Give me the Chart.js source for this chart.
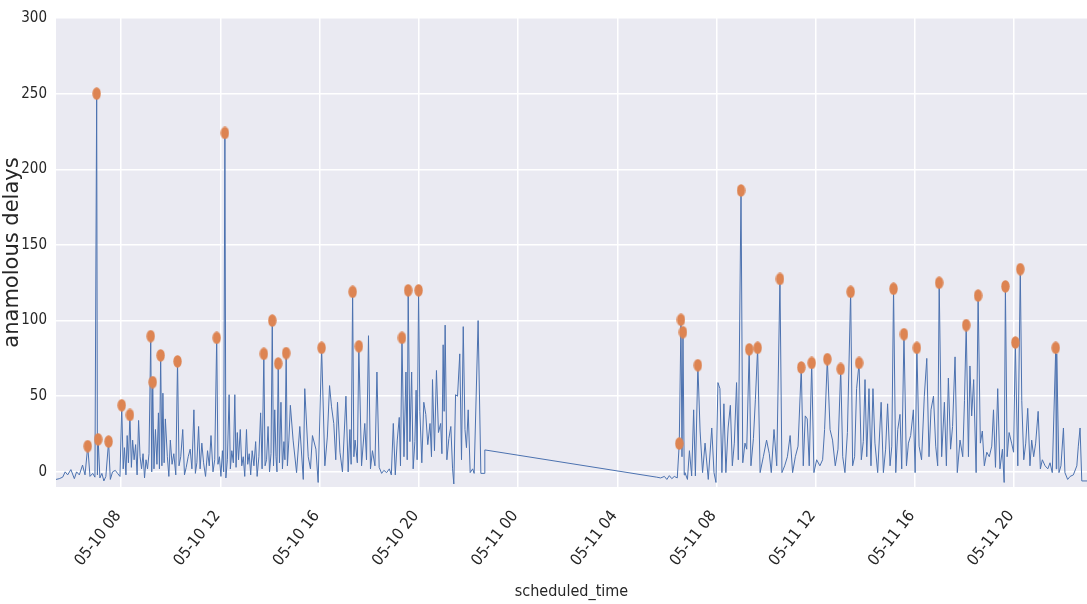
<!DOCTYPE html>
<html>
<head>
<meta charset="utf-8">
<script src="https://cdn.jsdelivr.net/npm/chart.js@4.4.0/dist/chart.umd.min.js"></script>
<style>
  html, body { margin: 0; padding: 0; background: #ffffff; overflow: hidden; }
  canvas { display: block; }
</style>
</head>
<body>
<canvas id="delays-chart" width="1087" height="604"></canvas>
<script>
// hours counted from 05-10 00:00
const times = [
  5.37,5.50,5.64,5.74,5.84,5.97,6.11,6.20,6.31,6.44,
  6.54,6.65,6.74,6.85,6.94,7.01,7.04,7.07,7.14,7.22,
  7.30,7.38,7.49,7.56,7.65,7.76,7.85,7.95,8.02,8.08,
  8.13,8.19,8.24,8.29,8.35,8.41,8.46,8.52,8.58,8.64,
  8.70,8.76,8.82,8.88,8.94,9.00,9.06,9.12,9.19,9.23,
  9.27,9.32,9.38,9.44,9.50,9.54,9.59,9.64,9.68,9.73,
  9.78,9.86,9.92,9.98,10.05,10.12,10.20,10.27,10.33,10.40,
  10.48,10.55,10.62,10.70,10.78,10.85,10.93,10.99,11.05,11.12,
  11.18,11.25,11.32,11.40,11.48,11.55,11.62,11.70,11.77,11.85,
  11.90,11.96,12.02,12.08,12.13,12.18,12.22,12.28,12.35,12.40,
  12.46,12.52,12.58,12.63,12.68,12.73,12.80,12.86,12.92,12.98,
  13.05,13.10,13.16,13.22,13.28,13.35,13.42,13.48,13.55,13.62,
  13.68,13.75,13.80,13.86,13.92,13.98,14.04,14.09,14.14,14.19,
  14.24,14.28,14.33,14.38,14.44,14.50,14.56,14.60,14.65,14.70,
  14.76,14.82,14.93,15.07,15.20,15.34,15.40,15.54,15.63,15.71,
  15.85,15.94,16.08,16.21,16.31,16.40,16.48,16.57,16.65,16.72,
  16.82,16.92,17.06,17.15,17.22,17.27,17.33,17.38,17.43,17.52,
  17.58,17.69,17.82,17.89,17.97,18.05,18.13,18.23,18.31,18.40,
  18.50,18.59,18.70,18.81,18.89,18.97,19.05,19.13,19.21,19.26,
  19.32,19.40,19.48,19.53,19.57,19.64,19.71,19.77,19.84,19.89,
  19.93,19.99,20.04,20.12,20.20,20.28,20.36,20.45,20.51,20.55,
  20.63,20.71,20.79,20.88,20.93,20.98,21.02,21.06,21.13,21.21,
  21.29,21.36,21.41,21.48,21.56,21.65,21.72,21.79,21.86,21.92,
  21.99,22.07,22.17,22.23,22.39,22.50,22.63,22.66,29.59,
  29.75,29.90,30.00,30.10,30.20,30.30,30.42,30.50,30.57,30.61,
  30.65,30.70,30.73,30.83,30.91,31.00,31.08,31.15,31.25,31.34,
  31.44,31.54,31.67,31.81,31.90,31.98,32.06,32.14,32.22,32.30,
  32.38,32.47,32.56,32.64,32.72,32.81,32.88,32.99,33.06,33.15,
  33.22,33.32,33.39,33.49,33.57,33.66,33.76,33.89,34.02,34.13,
  34.21,34.32,34.43,34.56,34.64,34.75,34.86,34.97,35.07,35.18,
  35.29,35.42,35.50,35.58,35.66,35.74,35.84,35.93,36.04,36.17,
  36.28,36.36,36.47,36.58,36.68,36.79,36.90,37.01,37.09,37.18,
  37.28,37.41,37.49,37.57,37.65,37.75,37.84,37.92,37.99,38.06,
  38.15,38.23,38.31,38.39,38.50,38.64,38.73,38.82,38.90,39.00,
  39.07,39.14,39.23,39.31,39.40,39.47,39.56,39.66,39.74,39.83,
  39.94,40.01,40.08,40.17,40.27,40.38,40.48,40.57,40.65,40.75,
  40.84,40.92,40.98,41.08,41.19,41.27,41.35,41.44,41.52,41.62,
  41.71,41.82,41.93,42.00,42.07,42.16,42.22,42.29,42.37,42.47,
  42.55,42.64,42.72,42.80,42.90,43.00,43.10,43.17,43.25,43.34,
  43.43,43.53,43.60,43.65,43.72,43.80,43.90,43.98,44.05,44.15,
  44.25,44.31,44.39,44.47,44.55,44.64,44.71,44.79,44.87,44.97,
  45.06,45.14,45.25,45.36,45.45,45.54,45.68,45.70,45.72,45.81,
  45.89,45.99,46.05,46.16,46.26,46.39,46.53,46.59,46.66,46.73,46.95
];
const delays = [
  -5,-4.5,-3.5,0,-2,1.5,-4.5,0,-2,4.5,
  -2,17,-3,-1,-3.5,250,-2,21.5,-4,-1,
  -6,-3,20,-5,0,1,-1,-3,44,2,
  16,-2,24,6,37.6,3,21,8,18,-2,
  34,10,2,12,-4,8,2,12,89.7,0,
  59.3,2,28,5,39,2,77,4,52,6,
  35,10,-3,21,5,12,-2,73,4,10,
  28,-2,3,10,15,2,41,-1,6,30,
  2,19,6,-3,14,4,24,0,8,88.6,
  5,10,-3,14,0,224,-4,8,51,2,
  14,6,51,3,26,8,28,4,10,-3,
  28,5,12,-2,14,4,20,-3,10,39,
  2,78,4,8,30,0,12,100,4,41,
  10,0,71.6,6,46,2,20,8,78.5,4,
  21,44,21,-0.5,30,-5,55,10,2,24,
  15,-7,82,4,23,57,43,32,8,46,
  13,0,50,0,28,5,119,10,21,6,
  83,4,32,8,90,2,14,4,66,3,
  -1,1,-0.5,2,-2,32,-2,21,36,4,
  88.6,10,66,8,120,20,66,2,20,54,
  8,120,40,6,46,38,18,32,10,61,
  14,67,26,32,12,84,40,97,8,22,
  30,2,-8,51,50,78,8,96,28,16,
  41,-0.5,2,-1,100,-1,-1,14.5,-3.5,
  -4,-3,-5,-2.5,-4.5,-3,-4,18.7,100.5,10,
  92.3,-2,-0.5,-5,14,-2.7,41,-2.7,70.5,27,
  -0.5,19,-5,29,-0.5,-7,59,55,-0.5,45,
  -0.5,29,44,4,19,59,8,186,6,19,
  15,81,4,22,48,82,-0.5,10,21,12,
  -0.5,28,4,127.5,-0.5,4,10,24,-0.5,10,
  17,69,4,37,35,4,72,-0.5,8,4,
  8,28,74.5,28,21,4,15,68,10,-0.5,
  26,119,4,10,55,72,8,20,61,10,
  55,4,55,19,-0.5,46,-0.5,15,45,4,
  17,121,-0.5,28,38,2,91,4,19,24,
  41,-0.5,82,17,8,50,75,10,41,50,
  17,4,125,10,46,4,62,15,30,76,
  -0.5,21,10,47,97,10,70,37,61,-0.5,
  116.5,19,27,4,13,10,17,41,3,55,
  2,15,-7,122.6,10,26,19,13,85.5,4,
  134,47,8,19,42,4,21,10,19,40,
  2,8,4,2,6,-0.5,82,2,78,-0.5,
  4,29,-0.5,-5,-3,-2,4,17,29,-6,-6
];

// flagged anomalies
const anomalyTimes = [
  6.65,7.01,7.07,7.49,8.02,8.35,9.19,9.27,9.59,10.27,11.85,12.18,13.75,14.09,14.33,14.65,
  16.08,17.33,17.58,19.32,19.57,19.99,
  30.50,30.57,30.65,31.25,32.99,33.32,33.66,34.56,35.42,35.84,36.47,37.01,37.41,37.75,
  39.14,39.56,40.08,40.98,42.07,42.55,43.65,44.05,44.25,45.68
];
const anomalyDelays = [
  17,250,21.5,20,44,37.6,89.7,59.3,77,73,88.6,224,78,100,71.6,78.5,
  82,119,83,88.6,120,120,
  18.7,100.5,92.3,70.5,186,81,82,127.5,69,72,74.5,68,119,72,
  121,91,82,125,97,116.5,122.6,85.5,134,82
];

const xTickHours = [8, 12, 16, 20, 24, 28, 32, 36, 40, 44];
const yTickValues = [0, 50, 100, 150, 200, 250, 300];

function hourLabel(h) {
  const day = 10 + Math.floor(h / 24);
  const hh = h % 24;
  return '05-' + day + ' ' + (hh < 10 ? '0' + hh : hh);
}

// orange dot, a bit taller than wide like the original
const dot = document.createElement('canvas');
dot.width = 9; dot.height = 13;
(function () {
  const c = dot.getContext('2d');
  c.fillStyle = '#DD8452';
  c.beginPath();
  c.ellipse(4.5, 6.5, 4.2, 6.2, 0, 0, Math.PI * 2);
  c.fill();
})();

const plotBackground = {
  id: 'plotBackground',
  beforeDraw(chart) {
    const { ctx, chartArea: a } = chart;
    ctx.save();
    ctx.fillStyle = '#EAEAF2';
    ctx.fillRect(a.left, a.top, a.right - a.left, a.bottom - a.top);
    ctx.restore();
  }
};

const narrow = "'Liberation Sans Narrow', 'DejaVu Sans Condensed', sans-serif";

new Chart(document.getElementById('delays-chart'), {
  type: 'scatter',
  data: {
    datasets: [
      {
        label: 'anomalies',
        data: anomalyTimes.map((t, i) => ({ x: t, y: anomalyDelays[i] })),
        pointStyle: dot,
        pointRadius: 5,
        showLine: false
      },
      {
        label: 'delays',
        data: times.map((t, i) => ({ x: t, y: delays[i] })),
        showLine: true,
        borderColor: '#4C72B0',
        borderWidth: 1,
        pointRadius: 0,
        tension: 0
      }
    ]
  },
  options: {
    responsive: false,
    animation: false,
    events: [],
    // no auto padding for the dots, the plot runs to the right edge
    layout: { autoPadding: false, padding: { top: 18, right: 0, left: 0, bottom: 0 } },
    plugins: {
      legend: { display: false },
      tooltip: { enabled: false }
    },
    scales: {
      x: {
        type: 'linear',
        min: 5.37,
        max: 46.94,
        afterBuildTicks: (axis) => { axis.ticks = xTickHours.map(v => ({ value: v })); },
        afterFit: (axis) => { axis.height = 117; },
        grid: { color: '#ffffff', lineWidth: 1.5, drawTicks: false },
        border: { display: false },
        ticks: {
          minRotation: 52,
          maxRotation: 52,
          padding: 20,
          labelOffset: -3,
          color: '#262626',
          font: { family: narrow, size: 16 },
          callback: (v) => hourLabel(v)
        },
        title: {
          display: true,
          text: 'scheduled_time',
          color: '#262626',
          font: { family: narrow, size: 16 },
          padding: { top: 0, bottom: 3 }
        }
      },
      y: {
        min: -10,
        max: 300,
        afterBuildTicks: (axis) => { axis.ticks = yTickValues.map(v => ({ value: v })); },
        afterFit: (axis) => { axis.width = 56; },
        grid: { color: '#ffffff', lineWidth: 1.5, drawTicks: false },
        border: { display: false },
        ticks: {
          padding: 9,
          color: '#262626',
          font: { family: narrow, size: 15 }
        },
        title: {
          display: true,
          text: 'anamolous delays',
          color: '#262626',
          font: { family: "'DejaVu Sans', sans-serif", size: 21 },
          padding: { top: 0, bottom: 0 }
        }
      }
    }
  },
  plugins: [plotBackground]
});
</script>
</body>
</html>
